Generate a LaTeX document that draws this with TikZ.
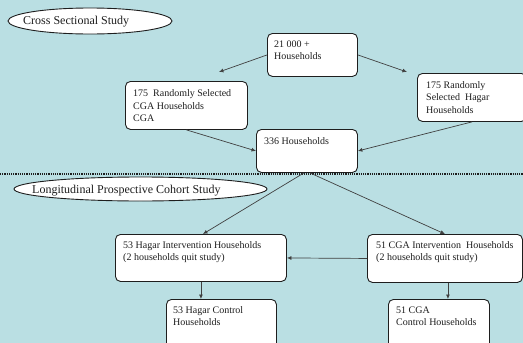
\documentclass[tikz,border=0pt]{standalone}
\usepackage{fontspec}
\setmainfont{Liberation Serif}
\usetikzlibrary{arrows.meta,calc,shapes.geometric}
\definecolor{bg}{RGB}{186,223,227}
\definecolor{ink}{RGB}{30,30,30}
\begin{document}
\begin{tikzpicture}[x=1pt,y=-1pt,
  box/.style={draw=ink,fill=white,rounded corners=5pt,line width=0.9pt,inner sep=0pt,anchor=north west},
  txt/.style={anchor=north west,inner sep=0pt,align=left,font=\fontsize{10}{12.5}\selectfont,text=ink},
  oval/.style={draw=ink,fill=white,ellipse,line width=0.9pt,inner sep=0pt},
  ovtxt/.style={anchor=base west,inner sep=0pt,font=\fontsize{12}{14}\selectfont,text=ink},
  arr/.style={draw=ink!85,line width=0.7pt,-{Latex[length=4.5pt,width=4pt]}},
  sep/.style={draw=ink,line width=1.6pt,dash pattern=on 1.1pt off 1.1pt}]
\useasboundingbox (0,0) rectangle (523,343);
\clip (0,0) rectangle (523,343);
\fill[bg] (0,0) rectangle (523,343);

% separator
\coordinate (dl) at (0,174);
\coordinate (dr) at (523,174);
\draw[sep] (dl) -- (dr);

% ovals
\node[oval,minimum width=164pt,minimum height=26pt] (e1) at (90,21) {};
\node[ovtxt] (e1t) at (23,24) {Cross Sectional Study};
\node[oval,minimum width=253pt,minimum height=24pt] (e2) at (140.5,189) {};
\node[ovtxt] (e2t) at (32,193.5) {Longitudinal Prospective Cohort Study};

% boxes
\node[box,minimum width=90pt,minimum height=43pt] (b21) at (267,33) {};
\node[txt] (t21) at ([shift={(7,5.25)}]b21.north west) {\strut 21 000 +\\Households};

\node[box,minimum width=122pt,minimum height=48pt] (bcga) at (125,81) {};
\node[txt] (tcga) at ([shift={(8,6.75)}]bcga.north west) {\strut 175\ \ Randomly Selected\\CGA Households\\CGA};

\node[box,minimum width=109pt,minimum height=48pt] (bhag) at (417,73) {};
\node[txt] (thag) at ([shift={(9,6.25)}]bhag.north west) {\strut 175 Randomly\\Selected\ \ Hagar\\Households};

\node[box,minimum width=101pt,minimum height=43pt] (b336) at (256,129) {};
\node[txt] (t336) at ([shift={(8,6.25)}]b336.north west) {\strut 336 Households};

\node[box,minimum width=171pt,minimum height=47pt] (bhi) at (115,234) {};
\node[txt] (thi) at ([shift={(8,5.25)}]bhi.north west) {\strut 53 Hagar Intervention Households\\(2 households quit study)};

\node[box,minimum width=155pt,minimum height=48pt] (bci) at (367,234) {};
\node[txt] (tci) at ([shift={(9,5.25)}]bci.north west) {\strut 51 CGA Intervention\ \ Households\\(2 households quit study)};

\node[box,minimum width=110pt,minimum height=55pt] (bhc) at (166,299) {};
\node[txt] (thc) at ([shift={(7,5.25)}]bhc.north west) {\strut 53 Hagar Control\\Households};

\node[box,minimum width=101pt,minimum height=55pt] (bcc) at (388,299) {};
\node[txt] (tcc) at ([shift={(8,5.25)}]bcc.north west) {\strut 51 CGA\\Control Households};

% connectors
\draw[arr] (b21.west) -- ([shift={(-29,-9)}]bcga.north east);
\draw[arr] (b21.east) -- ([shift={(-10,-1)}]bhag.north west);
\draw[arr] (bcga.south) -- (b336.west);
\draw[arr] (bhag.south) -- (b336.east);
\draw[arr] ([xshift=-3pt]b336.south) -- ([xshift=2pt]bhi.north);
\draw[arr] ([xshift=3pt]b336.south) -- (bci.north);
\draw[arr] (bci.west) -- (bhi.east);
\draw[arr] (bhi.south) -- (bhi.south |- bhc.north);
\draw[arr] ([xshift=3pt]bci.south) -- ([xshift=3pt]bci.south |- bcc.north);
\end{tikzpicture}
\end{document}
